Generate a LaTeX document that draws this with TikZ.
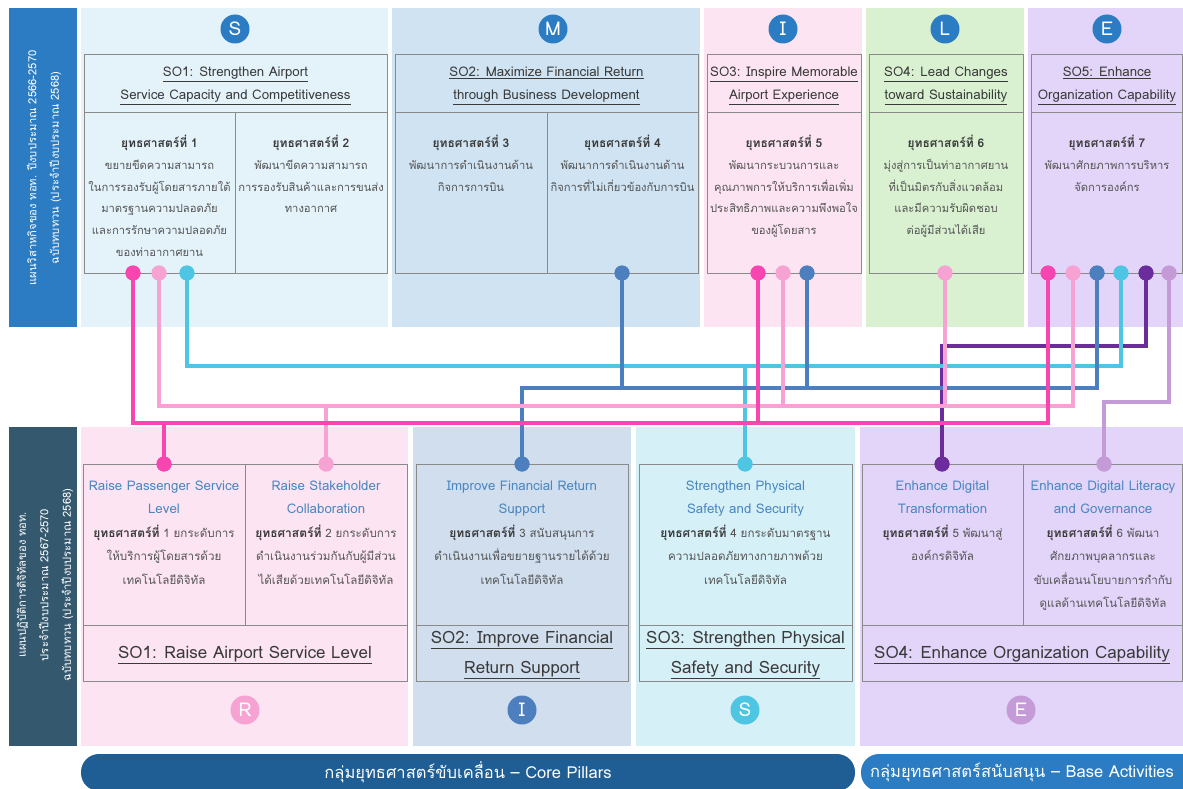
\documentclass[tikz,border=0pt]{standalone}
\usepackage{fontspec}
\setmainfont[Script=Thai]{Loma}
\definecolor{topbar}{HTML}{2B7CC3}
\definecolor{botbar}{HTML}{34586E}
\definecolor{colS}{HTML}{E4F2FA}
\definecolor{colM}{HTML}{CFE3F2}
\definecolor{colI}{HTML}{FCE4F2}
\definecolor{colL}{HTML}{D9F1D1}
\definecolor{colE}{HTML}{E2D5F9}
\definecolor{colIb}{HTML}{D0DEEE}
\definecolor{colSb}{HTML}{D6F0F7}
\definecolor{boxgray}{HTML}{8A8A8A}
\definecolor{hdgray}{HTML}{3A3A3A}
\definecolor{bdgray}{HTML}{555555}
\definecolor{subblue}{HTML}{4A86C0}
\definecolor{cDP}{HTML}{F845B0}
\definecolor{cLP}{HTML}{F6A3D3}
\definecolor{cCy}{HTML}{4FC5E4}
\definecolor{cBl}{HTML}{4D7FBE}
\definecolor{cPu}{HTML}{6B2D9C}
\definecolor{cLi}{HTML}{C49BD6}
\definecolor{ban1}{HTML}{1F5E94}
\definecolor{ban2}{HTML}{2B7CC3}
\newcommand{\sthead}[1]{\textcolor{hdgray}{\fontsize{12}{21.8}\selectfont\bfseries #1}}
\newcommand{\stb}[1]{\textcolor{hdgray}{\fontsize{12}{23.5}\selectfont\bfseries #1}}
\newcommand{\subt}[1]{\textcolor{subblue}{\fontsize{13.3}{23.5}\selectfont #1}}
\begin{document}
\begin{tikzpicture}[x=1pt,y=-1pt,
  boxline/.style={draw=boxgray,line width=0.8pt},
  dot/.style={circle,fill=#1,minimum size=15pt,inner sep=0pt},
  conn/.style={draw=#1,line width=4pt},
  badge/.style={circle,fill=#1,minimum size=29pt,inner sep=0pt,text=white,font=\fontsize{19}{19}\selectfont},
  hdr/.style={align=center,text=hdgray,font=\fontsize{13.3}{23}\selectfont,inner sep=0pt,anchor=base},
  bdy/.style={align=center,text=bdgray,font=\fontsize{11.2}{21.8}\selectfont,inner sep=0pt,anchor=base},
  bbdy/.style={align=center,text=bdgray,font=\fontsize{11.6}{23.5}\selectfont,inner sep=0pt,anchor=base},
  so/.style={align=center,text=hdgray,font=\fontsize{17}{30}\selectfont,inner sep=0pt,anchor=base},
  side/.style={align=center,text=white,font=\fontsize{11.2}{22.5}\selectfont,inner sep=0pt,rotate=90},
  bantext/.style={text=white,font=\fontsize{16.5}{16.5}\selectfont,inner sep=0pt}
]
\useasboundingbox (0,0) rectangle (1183,789);
\fill[white] (0,0) rectangle (1183,789);
% ---------- top columns
\fill[topbar] (9,8) rectangle (77,327);
\fill[colS] (81,8) rectangle (388,327);
\fill[colM] (392,8) rectangle (700,327);
\fill[colI] (704,8) rectangle (862,327);
\fill[colL] (866,8) rectangle (1024,327);
\fill[colE] (1028,8) rectangle (1183,327);
% ---------- bottom columns
\fill[botbar] (9,427) rectangle (77,746);
\fill[colI] (81,427) rectangle (408,746);
\fill[colIb] (413,427) rectangle (631,746);
\fill[colSb] (636,427) rectangle (855,746);
\fill[colE] (860,427) rectangle (1183,746);
% ---------- top boxes
\draw[boxline] (84,54) rectangle (387,273) (84,112) -- (387,112) (235,112) -- (235,273);
\draw[boxline] (395,54) rectangle (698,273) (395,112) -- (698,112) (547,112) -- (547,273);
\draw[boxline] (707,54) rectangle (861,273) (707,112) -- (861,112);
\draw[boxline] (869,54) rectangle (1023,273) (869,112) -- (1023,112);
\draw[boxline] (1031,54) rectangle (1182.6,273) (1031,112) -- (1183,112);
% ---------- bottom boxes
\draw[boxline] (83,464) rectangle (407,681) (83,625) -- (407,625) (245,464) -- (245,625);
\draw[boxline] (416,464) rectangle (628,681) (416,625) -- (628,625);
\draw[boxline] (639,464) rectangle (852,681) (639,625) -- (852,625);
\draw[boxline] (862,464) rectangle (1182.6,681) (862,625) -- (1183,625) (1023,464) -- (1023,625);
% ---------- side labels
\node[side] (sideTop) at (44,168) {แผนวิสาหกิจของ ทอท. ปีงบประมาณ 2566-2570\\ฉบับทบทวน (ประจำปีงบประมาณ 2568)};
\node[side] (sideBot) at (45,585) {แผนปฏิบัติการดิจิทัลของ ทอท.\\ประจำปีงบประมาณ 2567-2570\\ฉบับทบทวน (ประจำปีงบประมาณ 2568)};
% ---------- top badges
\node[badge=topbar] (bS) at (235,29) {S};
\node[badge=topbar] (bM) at (553,29) {M};
\node[badge=topbar] (bI) at (783,29) {I};
\node[badge=topbar] (bL) at (945,29) {L};
\node[badge=topbar] (bE) at (1107,29) {E};
% ---------- top headers (base = last line)
\node[hdr] (h1) at (235.5,100) {\underline{SO1: Strengthen Airport}\\\underline{Service Capacity and Competitiveness}};
\node[hdr] (h2) at (546.5,100) {\underline{SO2: Maximize Financial Return}\\\underline{through Business Development}};
\node[hdr] (h3) at (784,100) {\underline{SO3: Inspire Memorable}\\\underline{Airport Experience}};
\node[hdr] (h4) at (946,100) {\underline{SO4: Lead Changes}\\\underline{toward Sustainability}};
\node[hdr] (h5) at (1107,100) {\underline{SO5: Enhance}\\\underline{Organization Capability}};
% ---------- top bodies (base = last line)
\node[bdy] (t1) at (159.5,256.5) {\sthead{ยุทธศาสตร์ที่ 1}\\ขยายขีดความสามารถ\\ในการรองรับผู้โดยสารภายใต้\\มาตรฐานความปลอดภัย\\และการรักษาความปลอดภัย\\ของท่าอากาศยาน};
\node[bdy] (t2) at (311,212.9) {\sthead{ยุทธศาสตร์ที่ 2}\\พัฒนาขีดความสามารถ\\การรองรับสินค้าและการขนส่ง\\ทางอากาศ};
\node[bdy] (t3) at (471,191.1) {\sthead{ยุทธศาสตร์ที่ 3}\\พัฒนาการดำเนินงานด้าน\\กิจการการบิน};
\node[bdy] (t4) at (622.5,191.1) {\sthead{ยุทธศาสตร์ที่ 4}\\พัฒนาการดำเนินงานด้าน\\กิจการที่ไม่เกี่ยวข้องกับการบิน};
\node[bdy] (t5) at (784,234.7) {\sthead{ยุทธศาสตร์ที่ 5}\\พัฒนากระบวนการและ\\คุณภาพการให้บริการเพื่อเพิ่ม\\ประสิทธิภาพและความพึงพอใจ\\ของผู้โดยสาร};
\node[bdy] (t6) at (946,234.7) {\sthead{ยุทธศาสตร์ที่ 6}\\มุ่งสู่การเป็นท่าอากาศยาน\\ที่เป็นมิตรกับสิ่งแวดล้อม\\และมีความรับผิดชอบ\\ต่อผู้มีส่วนได้เสีย};
\node[bdy] (t7) at (1107,191.1) {\sthead{ยุทธศาสตร์ที่ 7}\\พัฒนาศักยภาพการบริหาร\\จัดการองค์กร};
% ---------- bottom bodies (base = last line)
\node[bbdy] (r1) at (164,584) {\subt{Raise Passenger Service}\\\subt{Level}\\\stb{ยุทธศาสตร์ที่} 1 ยกระดับการ\\ให้บริการผู้โดยสารด้วย\\เทคโนโลยีดิจิทัล};
\node[bbdy] (r2) at (326,584) {\subt{Raise Stakeholder}\\\subt{Collaboration}\\\stb{ยุทธศาสตร์ที่} 2 ยกระดับการ\\ดำเนินงานร่วมกันกับผู้มีส่วน\\ได้เสียด้วยเทคโนโลยีดิจิทัล};
\node[bbdy] (r3) at (522,584) {\subt{Improve Financial Return}\\\subt{Support}\\\stb{ยุทธศาสตร์ที่} 3 สนับสนุนการ\\ดำเนินงานเพื่อขยายฐานรายได้ด้วย\\เทคโนโลยีดิจิทัล};
\node[bbdy] (r4) at (745.5,584) {\subt{Strengthen Physical}\\\subt{Safety and Security}\\\stb{ยุทธศาสตร์ที่} 4 ยกระดับมาตรฐาน\\ความปลอดภัยทางกายภาพด้วย\\เทคโนโลยีดิจิทัล};
\node[bbdy] (r5) at (942.5,560.5) {\subt{Enhance Digital}\\\subt{Transformation}\\\stb{ยุทธศาสตร์ที่} 5 พัฒนาสู่\\องค์กรดิจิทัล};
\node[bbdy] (r6) at (1103,607.5) {\subt{Enhance Digital Literacy}\\\subt{and Governance}\\\stb{ยุทธศาสตร์ที่} 6 พัฒนา\\ศักยภาพบุคลากรและ\\ขับเคลื่อนนโยบายการกำกับ\\ดูแลด้านเทคโนโลยีดิจิทัล};
% ---------- bottom SO titles
\node[so] (so1) at (245,658) {\underline{SO1: Raise Airport Service Level}};
\node[so] (so2) at (522,673) {\underline{SO2: Improve Financial}\\\underline{Return Support}};
\node[so] (so3) at (745.5,673) {\underline{SO3: Strengthen Physical}\\\underline{Safety and Security}};
\node[so] (so4) at (1022,658) {\underline{SO4: Enhance Organization Capability}};
% ---------- bottom badges
\node[badge=cLP] (bR2) at (245,710) {R};
\node[badge=cBl] (bI2) at (522,710) {I};
\node[badge=cCy] (bS2) at (745,710) {S};
\node[badge=cLi] (bE2) at (1021,710) {E};
% ---------- banners
\fill[ban1,rounded corners=18pt] (81,754) rectangle (855,791);
\node[bantext] (ban1t) at (468,772) {กลุ่มยุทธศาสตร์ขับเคลื่อน – Core Pillars};
\fill[ban2,rounded corners=18pt] (861,754) rectangle (1200,791);
\node[bantext] (ban2t) at (1022,772) {กลุ่มยุทธศาสตร์สนับสนุน – Base Activities};
% ---------- dots (top)
\node[dot=cDP] (d1) at (133,273) {};
\node[dot=cLP] (d2) at (159,273) {};
\node[dot=cCy] (d3) at (187,273) {};
\node[dot=cBl] (d4) at (622,273) {};
\node[dot=cDP] (d5) at (758,273) {};
\node[dot=cLP] (d6) at (783,273) {};
\node[dot=cBl] (d7) at (807,273) {};
\node[dot=cLP] (d8) at (945,273) {};
\node[dot=cDP] (d9) at (1048,273) {};
\node[dot=cLP] (d10) at (1073,273) {};
\node[dot=cBl] (d11) at (1097,273) {};
\node[dot=cCy] (d12) at (1121,273) {};
\node[dot=cPu] (d13) at (1146,273) {};
\node[dot=cLi] (d14) at (1169,273) {};
% ---------- dots (bottom)
\node[dot=cDP] (e1) at (164,464) {};
\node[dot=cLP] (e2) at (326,464) {};
\node[dot=cBl] (e3) at (522,464) {};
\node[dot=cCy] (e4) at (745,464) {};
\node[dot=cPu] (e5) at (942,464) {};
\node[dot=cLi] (e6) at (1104,464) {};
% ---------- bus levels
\coordinate (yPu) at (0,346);
\coordinate (yCy) at (0,366);
\coordinate (yBl) at (0,388);
\coordinate (yLi) at (0,402);
\coordinate (yLP) at (0,406);
\coordinate (yDP) at (0,423);
% ---------- connectors
\draw[conn=cPu] (d13.center) -- (d13.center |- yPu) -- (e5.center |- yPu) -- (e5.center);
\draw[conn=cCy] (d3.center) -- (d3.center |- yCy) -- (d12.center |- yCy) -- (d12.center);
\draw[conn=cCy] (e4.center |- yCy) -- (e4.center);
\draw[conn=cBl] (e3.center) -- (e3.center |- yBl) -- (d11.center |- yBl) -- (d11.center);
\draw[conn=cBl] (d4.center) -- (d4.center |- yBl);
\draw[conn=cBl] (d7.center) -- (d7.center |- yBl);
\draw[conn=cLP] (d2.center) -- (d2.center |- yLP) -- (d10.center |- yLP) -- (d10.center);
\draw[conn=cLP] (d6.center) -- (d6.center |- yLP);
\draw[conn=cLP] (d8.center) -- (d8.center |- yLP);
\draw[conn=cLP] (e2.center |- yLP) -- (e2.center);
\draw[conn=cDP] (d1.center) -- (d1.center |- yDP) -- (d9.center |- yDP) -- (d9.center);
\draw[conn=cDP] (d5.center) -- (d5.center |- yDP);
\draw[conn=cDP] (e1.center |- yDP) -- (e1.center);
\draw[conn=cLi] (d14.center) -- (d14.center |- yLi) -- (e6.center |- yLi) -- (e6.center);
% redraw dots on top of connectors
\foreach \n/\c in {d1/cDP,d2/cLP,d3/cCy,d4/cBl,d5/cDP,d6/cLP,d7/cBl,d8/cLP,d9/cDP,d10/cLP,d11/cBl,d12/cCy,d13/cPu,d14/cLi,e1/cDP,e2/cLP,e3/cBl,e4/cCy,e5/cPu,e6/cLi}
  \fill[\c] (\n.center) circle (7.5pt);
\end{tikzpicture}
\end{document}
